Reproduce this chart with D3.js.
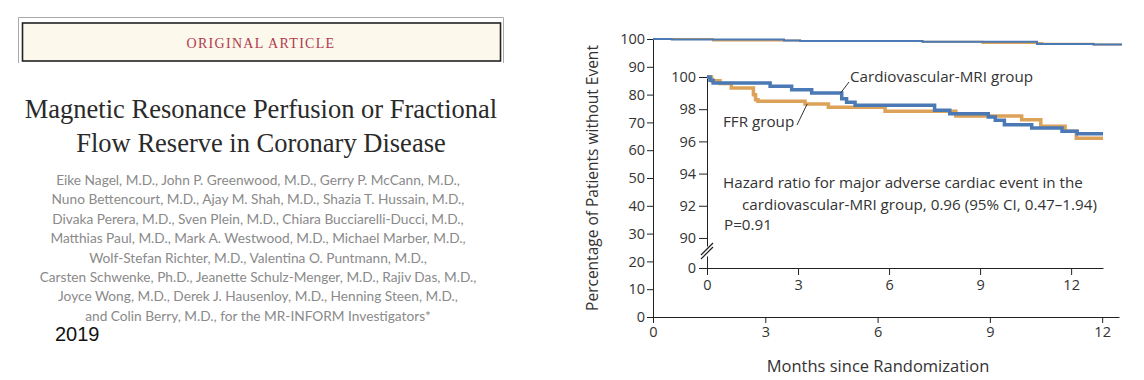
<!DOCTYPE html>
<html>
<head>
<meta charset="utf-8">
<script src="https://cdn.jsdelivr.net/npm/d3@7"></script>
<style>
  body { margin: 0; background: #fff; }
  svg text { font-family: "Open Sans", "Noto Sans", sans-serif; }
</style>
</head>
<body>
<svg id="chart" width="1144" height="380"></svg>
<script>
// title page text
const titleLines = ["Magnetic Resonance Perfusion or Fractional", "Flow Reserve in Coronary Disease"];
const authorLines = [
  "Eike Nagel, M.D., John P. Greenwood, M.D., Gerry P. McCann, M.D.,",
  "Nuno Bettencourt, M.D., Ajay M. Shah, M.D., Shazia T. Hussain, M.D.,",
  "Divaka Perera, M.D., Sven Plein, M.D., Chiara Bucciarelli-Ducci, M.D.,",
  "Matthias Paul, M.D., Mark A. Westwood, M.D., Michael Marber, M.D.,",
  "Wolf-Stefan Richter, M.D., Valentina O. Puntmann, M.D.,",
  "Carsten Schwenke, Ph.D., Jeanette Schulz-Menger, M.D., Rajiv Das, M.D.,",
  "Joyce Wong, M.D., Derek J. Hausenloy, M.D., Henning Steen, M.D.,",
  "and Colin Berry, M.D., for the MR-INFORM Investigators*"
];

// main panel (0-100 scale)
const mainTicksY = [0, 10, 20, 30, 40, 50, 60, 70, 80, 90, 100];
const monthTicks = [0, 3, 6, 9, 12];
const mainFfrMonths = [0, 1.6, 3.93, 7.2, 8.8, 10.4, 11.77, 12.53];
const mainFfrPct = [100, 99.5, 99.3, 99.0, 98.6, 98.3, 98.0, 98.0];
const mainCmrMonths = [0, 0.5, 3.5, 3.93, 7.2, 10.26, 11.77, 12.53];
const mainCmrPct = [100, 99.8, 99.5, 99.3, 99.0, 98.2, 98.0, 98.0];

// inset (zoomed 90-100)
const insetTicksY = [90, 92, 94, 96, 98, 100];
const ffrMonths = [0, 0.15, 0.43, 0.8, 1.53, 1.6, 1.68, 3.23, 4.0, 5.87, 8.2, 10.37, 11.0, 11.8, 12.17, 13.05];
const ffrPct = [100, 99.77, 99.6, 99.32, 98.9, 98.59, 98.49, 98.32, 98.12, 97.87, 97.58, 97.35, 96.94, 96.63, 96.2, 96.2];
const cmrMonths = [0, 0.1, 0.2, 2.08, 2.79, 3.45, 4.44, 4.6, 4.88, 7.5, 8.0, 9.27, 9.5, 9.8, 10.7, 11.7, 12.2, 13.05];
const cmrPct = [100, 99.8, 99.63, 99.42, 99.21, 99.0, 98.65, 98.43, 98.24, 97.93, 97.72, 97.52, 97.31, 97.04, 96.83, 96.63, 96.48, 96.48];

const blue = "#4a79b6", orange = "#dca258", ink = "#333";
const chartFont = "'Open Sans', 'Noto Sans', sans-serif";

const svg = d3.select("#chart");
svg.append("rect").attr("width", 1144).attr("height", 380).attr("fill", "#fff");

// ---- left: article header ----
svg.append("path").attr("d", "M18.5,63V17.5H503.5V63")
  .attr("fill", "none").attr("stroke", "#aaa").attr("stroke-width", 1);
svg.append("rect").attr("x", 22.5).attr("y", 23).attr("width", 478).attr("height", 38)
  .attr("fill", "#fcf8ec").attr("stroke", "#222").attr("stroke-width", 1.6);
svg.append("text").attr("x", 261).attr("y", 47.5).attr("text-anchor", "middle")
  .style("font-family", "'Liberation Serif', serif").style("font-size", "14px")
  .style("letter-spacing", "1.3px")
  .attr("fill", "#b23a4e").text("ORIGINAL ARTICLE");

svg.selectAll(".title").data(titleLines).join("text")
  .attr("x", 261).attr("y", (d, i) => 118 + i * 34).attr("text-anchor", "middle")
  .style("font-family", "'Liberation Serif', serif").style("font-size", "26.5px")
  .attr("fill", "#2a2a2a").text(d => d);

svg.selectAll(".author").data(authorLines).join("text")
  .attr("x", 258).attr("y", (d, i) => 185 + i * 19.4).attr("text-anchor", "middle")
  .style("font-family", "Lato, sans-serif").style("font-size", "13.7px")
  .attr("fill", "#8a8a8a").text(d => d);

svg.append("text").attr("x", 55).attr("y", 341)
  .style("font-family", "'Liberation Sans', sans-serif").style("font-size", "20px")
  .attr("fill", "#111").text("2019");

// ---- main chart ----
const x = d3.scaleLinear().domain([0, 12.45]).range([653, 1119]);
const y = d3.scaleLinear().domain([0, 100]).range([317, 39]);

const styleAxis = g => {
  g.selectAll("path, line").attr("stroke", "#222");
  g.selectAll("text").attr("fill", ink).style("font-size", "14.5px")
    .style("font-family", chartFont);
};

svg.append("g").attr("transform", "translate(0,317)")
  .call(d3.axisBottom(x).tickValues(monthTicks).tickSize(6).tickSizeOuter(0).tickPadding(4))
  .call(styleAxis);
svg.append("g").attr("transform", "translate(653,0)")
  .call(d3.axisLeft(y).tickValues(mainTicksY).tickSize(6).tickSizeOuter(0).tickPadding(2))
  .call(styleAxis);

svg.append("text").attr("transform", "translate(598,178) rotate(-90)")
  .attr("text-anchor", "middle").style("font-size", "15.5px").attr("fill", ink)
  .text("Percentage of Patients without Event");
svg.append("text").attr("x", 878).attr("y", 372).attr("text-anchor", "middle")
  .style("font-size", "16.5px").attr("fill", ink).text("Months since Randomization");

const mainLine = d3.line().curve(d3.curveStepAfter).x(d => x(d[0])).y(d => y(d[1]));
svg.append("path").datum(d3.zip(mainFfrMonths, mainFfrPct)).attr("d", mainLine)
  .attr("fill", "none").attr("stroke", orange).attr("stroke-width", 2);
svg.append("path").datum(d3.zip(mainCmrMonths, mainCmrPct)).attr("d", mainLine)
  .attr("fill", "none").attr("stroke", blue).attr("stroke-width", 2);

// ---- inset ----
const xi = d3.scaleLinear().domain([0, 13.05]).range([707, 1103]);
const yi = d3.scaleLinear().domain([89.5, 100]).range([246, 77]);
const yz = d3.scaleLinear().domain([0, 0.75]).range([268, 256]);

svg.append("g").attr("transform", "translate(0,268)")
  .call(d3.axisBottom(xi).tickValues(monthTicks).tickSize(7).tickSizeOuter(0).tickPadding(5))
  .call(styleAxis);
svg.append("g").attr("transform", "translate(707,0)")
  .call(d3.axisLeft(yi).tickValues(insetTicksY).tickSize(8).tickSizeOuter(0).tickPadding(3))
  .call(styleAxis);
svg.append("g").attr("transform", "translate(707,0)")
  .call(d3.axisLeft(yz).tickValues([0]).tickFormat(d3.format("d")).tickSize(8).tickSizeOuter(0).tickPadding(3))
  .call(styleAxis);
// axis break marks
[0, 4].forEach(o => {
  svg.append("line").attr("x1", 701).attr("y1", 255 + o).attr("x2", 713).attr("y2", 243 + o)
    .attr("stroke", "#222").attr("stroke-width", 1.2);
});

const inLine = d3.line().curve(d3.curveStepAfter).x(d => xi(d[0])).y(d => yi(d[1]));
svg.append("path").datum(d3.zip(ffrMonths, ffrPct)).attr("d", inLine)
  .attr("fill", "none").attr("stroke", orange).attr("stroke-width", 3.5);
svg.append("path").datum(d3.zip(cmrMonths, cmrPct)).attr("d", inLine)
  .attr("fill", "none").attr("stroke", blue).attr("stroke-width", 3.5);

// labels + leaders
const noteSize = "15.2px";
svg.append("line").attr("x1", xi(4.4)).attr("y1", yi(99.0)).attr("x2", 849).attr("y2", 82)
  .attr("stroke", "#333").attr("stroke-width", 1);
svg.append("text").attr("x", 850).attr("y", 82).style("font-size", noteSize).attr("fill", ink)
  .text("Cardiovascular-MRI group");
svg.append("line").attr("x1", 797).attr("y1", 125).attr("x2", xi(3.3)).attr("y2", yi(98.32))
  .attr("stroke", "#333").attr("stroke-width", 1);
svg.append("text").attr("x", 723).attr("y", 127).style("font-size", noteSize).attr("fill", ink)
  .text("FFR group");

svg.append("text").attr("x", 723).attr("y", 188).style("font-size", noteSize).attr("fill", ink)
  .text("Hazard ratio for major adverse cardiac event in the");
svg.append("text").attr("x", 742).attr("y", 210).style("font-size", noteSize).attr("fill", ink)
  .text("cardiovascular-MRI group, 0.96 (95% CI, 0.47\u20131.94)");
svg.append("text").attr("x", 724).attr("y", 230).style("font-size", noteSize).attr("fill", ink)
  .text("P=0.91");
</script>
</body>
</html>
